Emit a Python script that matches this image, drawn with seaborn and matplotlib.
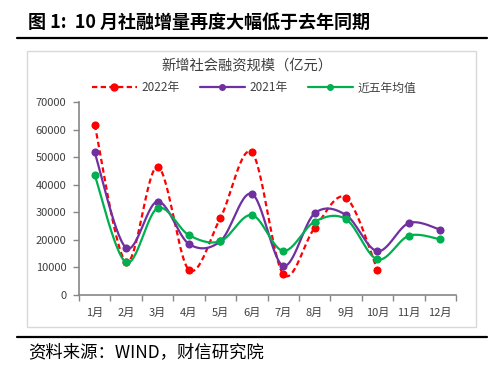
import numpy as np
import pandas as pd
import matplotlib
matplotlib.use("Agg")
import matplotlib.pyplot as plt
from matplotlib.lines import Line2D
from matplotlib.patches import Rectangle
import seaborn as sns

months = ["1月", "2月", "3月", "4月", "5月", "6月", "7月", "8月", "9月", "10月", "11月", "12月"]
s2022 = [61726, 11928, 46531, 9102, 27917, 51733, 7561, 24300, 35300, 9079]
s2021 = [51700, 17100, 33900, 18500, 19500, 36700, 10600, 29600, 29000, 15900, 26100, 23700]
avg5 = [43500, 11800, 31500, 21700, 19500, 29000, 16000, 26600, 27500, 12900, 21500, 20200]
yticks = [0, 10000, 20000, 30000, 40000, 50000, 60000, 70000]

series_names = ["2022年", "2021年", "近五年均值"]
series_vals = [s2022, s2021, avg5]
colors = {"2022年": "#FF0000", "2021年": "#7030A0", "近五年均值": "#00B050"}

sns.set_theme(style="white")
plt.rcParams["font.family"] = ["Noto Sans CJK SC", "DejaVu Sans"]


def smooth(y, n=30):
    x = np.arange(len(y), dtype=float)
    pts = np.column_stack([x, np.asarray(y, dtype=float)])
    out = [pts[0]]
    m = len(pts)
    t = np.linspace(0, 1, n)[1:, None]
    for i in range(m - 1):
        p0 = pts[i - 1] if i > 0 else pts[i]
        p1 = pts[i]
        p2 = pts[i + 1]
        p3 = pts[i + 2] if i + 2 < m else pts[i + 1]
        c1 = p1 + (p2 - p0) / 6.0
        c2 = p2 - (p3 - p1) / 6.0
        seg = ((1 - t) ** 3) * p1 + 3 * ((1 - t) ** 2) * t * c1 + 3 * (1 - t) * t ** 2 * c2 + t ** 3 * p2
        out.extend(seg)
    out = np.array(out)
    return out[:, 0], out[:, 1]


curve_rows = []
point_rows = []
for name, vals in zip(series_names, series_vals):
    xs, ys = smooth(vals)
    for k, (a, b) in enumerate(zip(xs, ys)):
        curve_rows.append({"series": name, "x": a, "y": b, "order": k})
    for i, v in enumerate(vals):
        point_rows.append({"series": name, "x": i, "y": v})
curves = pd.DataFrame(curve_rows)
points = pd.DataFrame(point_rows)

fig = plt.figure(figsize=(5.0, 3.69), dpi=100)
ax = fig.add_axes([0.158, 0.2005, 0.754, 0.5231])

draw_order = ["2022年", "2021年", "近五年均值"]
for z, name in enumerate(draw_order):
    sub = curves[curves["series"] == name]
    dashed = name == "2022年"
    sns.lineplot(data=sub, x="x", y="y", sort=False, estimator=None, ax=ax,
                 color=colors[name], linewidth=1.6, zorder=3 + z,
                 linestyle=(0, (2.4, 1.5)) if dashed else "-", legend=False)
    psub = points[points["series"] == name]
    sns.scatterplot(data=psub, x="x", y="y", ax=ax, color=colors[name], s=34,
                    edgecolor=colors[name], linewidth=0, zorder=3.5 + z, legend=False)

ax.set_xlim(-0.5, 11.5)
ax.set_ylim(0, 70000)
ax.set_yticks(yticks)
ax.set_yticklabels([str(v) for v in yticks], fontsize=8, color="#404040")
ax.set_xticks(range(12))
ax.set_xticklabels(months, fontsize=8, color="#404040")
ax.set_xticks(np.arange(-0.5, 12, 1), minor=True)
ax.tick_params(axis="x", which="major", length=0, pad=9)
ax.tick_params(axis="x", which="minor", length=4, width=1, color="#868686", direction="out", bottom=True)
ax.tick_params(axis="y", which="major", length=4, width=1, color="#868686", direction="out", left=True, pad=5)
ax.set_xlabel("")
ax.set_ylabel("")
for sp in ["top", "right"]:
    ax.spines[sp].set_visible(False)
for sp in ["left", "bottom"]:
    ax.spines[sp].set_color("#868686")
    ax.spines[sp].set_linewidth(1.2)
ax.grid(False)

handles = [
    Line2D([0], [0], color=colors["2022年"], linewidth=1.6, linestyle=(0, (2.4, 1.5)), marker="o", markersize=5),
    Line2D([0], [0], color=colors["2021年"], linewidth=1.6, marker="o", markersize=4),
    Line2D([0], [0], color=colors["近五年均值"], linewidth=1.6, marker="o", markersize=4),
]
fig.legend(handles, series_names, loc="center", bbox_to_anchor=(0.508, 1 - 88 / 369), ncol=3,
           frameon=False, fontsize=8.5, handlelength=3.8, columnspacing=1.7, handletextpad=0.4,
           labelcolor="#404040")

fig.text(0.494, 1 - 66 / 369, "新增社会融资规模（亿元）", ha="center", va="center", fontsize=10.3, color="#404040")

# chart border
fig.add_artist(Rectangle((27 / 500, 1 - 327 / 369), 449 / 500, 276 / 369, transform=fig.transFigure,
                         fill=False, edgecolor="#D9D9D9", linewidth=1.0))

# title and rules
fig.text(28 / 500, 1 - 22 / 369, "图 1:  10 月社融增量再度大幅低于去年同期", ha="left", va="center",
         fontsize=13, fontweight="bold", color="#000000")
fig.add_artist(Line2D([17 / 500, 487 / 500], [1 - 38 / 369, 1 - 38 / 369], transform=fig.transFigure,
                      color="black", linewidth=1.6))
fig.add_artist(Line2D([17 / 500, 487 / 500], [1 - 337 / 369, 1 - 337 / 369], transform=fig.transFigure,
                      color="black", linewidth=1.6))
fig.text(28 / 500, 1 - 352 / 369, "资料来源：WIND，财信研究院", ha="left", va="center",
         fontsize=12.5, fontstyle="italic", color="#000000")

fig.savefig("out.png", dpi=100)
